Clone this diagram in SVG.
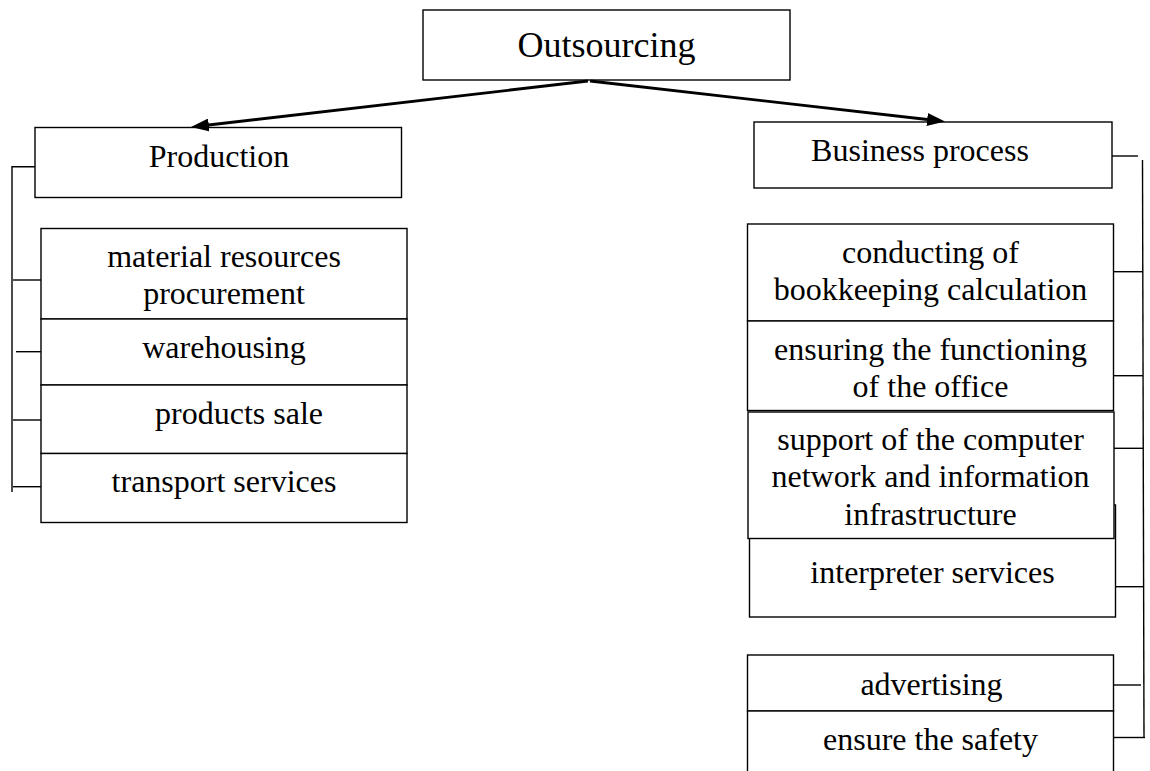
<svg xmlns="http://www.w3.org/2000/svg" width="1150" height="771" viewBox="0 0 1150 771">
<defs>
<style>
.box{fill:#fff;stroke:#000;stroke-width:1.4}
.t{font-family:"Liberation Serif","Times New Roman",serif;font-size:32px;fill:#000;text-anchor:middle}
.big{font-size:36px}
.ln{stroke:#000;stroke-width:1.4;fill:none}
.ar{stroke:#000;stroke-width:2.8;fill:none;marker-end:url(#ah)}
</style>
<marker id="ah" markerUnits="userSpaceOnUse" markerWidth="18" markerHeight="13" refX="9" refY="6.5" orient="auto">
<path d="M0,0 L18,6.5 L0,13 z" fill="#000"/>
</marker>
</defs>
<rect width="1150" height="771" fill="#fff"/>

<g id="n-outsourcing">
<rect class="box" x="423" y="10" width="367" height="70"/>
<text class="t big" x="606.5" y="57">Outsourcing</text>
</g>

<g id="n-production">
<rect class="box" x="35" y="127.5" width="366.5" height="70"/>
<text class="t" x="219" y="167">Production</text>
</g>

<g id="n-material">
<rect class="box" x="41" y="228.5" width="366" height="90.5"/>
<text class="t" x="224" y="267">material resources</text>
<text class="t" x="224" y="303.5">procurement</text>
</g>
<g id="n-warehousing">
<rect class="box" x="41" y="319" width="366" height="66"/>
<text class="t" x="224" y="358">warehousing</text>
</g>
<g id="n-sale">
<rect class="box" x="41" y="385" width="366" height="68.5"/>
<text class="t" x="239" y="424"> products sale</text>
</g>
<g id="n-transport">
<rect class="box" x="41" y="453.5" width="366" height="69"/>
<text class="t" x="224" y="492">transport services</text>
</g>

<g id="n-business">
<rect class="box" x="754" y="122" width="358" height="66"/>
<text class="t" x="920" y="161">Business process</text>
</g>

<g id="n-bookkeeping">
<rect class="box" x="747.5" y="224" width="366" height="97"/>
<text class="t" x="930.5" y="263">conducting of</text>
<text class="t" x="930.5" y="300">bookkeeping calculation</text>
</g>
<g id="n-office">
<rect class="box" x="747.5" y="321" width="366" height="89.5"/>
<text class="t" x="930.5" y="360">ensuring the functioning</text>
<text class="t" x="930.5" y="397">of the office</text>
</g>
<g id="n-interpreter">
<rect class="box" x="749.5" y="505" width="366" height="112"/>
<text class="t" x="932.5" y="583">interpreter services</text>
</g>
<g id="n-network">
<rect class="box" x="748" y="412" width="366" height="126.5"/>
<text class="t" x="930.5" y="450">support of the computer</text>
<text class="t" x="930.5" y="487">network and information</text>
<text class="t" x="930.5" y="525">infrastructure</text>
</g>
<g id="n-advertising">
<rect class="box" x="747.5" y="655" width="366" height="56"/>
<text class="t" x="931.5" y="695">advertising</text>
</g>
<g id="n-safety">
<rect class="box" x="747.5" y="711" width="366" height="80"/>
<text class="t" x="930.5" y="750">ensure the safety</text>
</g>

<g id="connectors">
<line class="ar" x1="588" y1="81" x2="199.9" y2="126"/>
<line class="ar" x1="590" y1="81" x2="936.1" y2="120.5"/>
<polyline class="ln" points="35,166.7 12,166.7 12,492"/>
<line class="ln" x1="13" y1="280" x2="41" y2="280"/>
<line class="ln" x1="16" y1="351.7" x2="41" y2="351.7"/>
<line class="ln" x1="13" y1="420" x2="41" y2="420"/>
<line class="ln" x1="13" y1="486.7" x2="41" y2="486.7"/>
<line class="ln" x1="1112" y1="156" x2="1138" y2="156"/>
<line class="ln" x1="1142.5" y1="160" x2="1144" y2="738"/>
<line class="ln" x1="1114" y1="271.7" x2="1142.5" y2="271.7"/>
<line class="ln" x1="1114" y1="375.7" x2="1143" y2="375.7"/>
<line class="ln" x1="1114" y1="448.3" x2="1143" y2="448.3"/>
<line class="ln" x1="1116" y1="586.7" x2="1143.5" y2="586.7"/>
<line class="ln" x1="1114" y1="685" x2="1141" y2="685"/>
<line class="ln" x1="1114" y1="737.5" x2="1145" y2="737.5"/>
</g>
</svg>
